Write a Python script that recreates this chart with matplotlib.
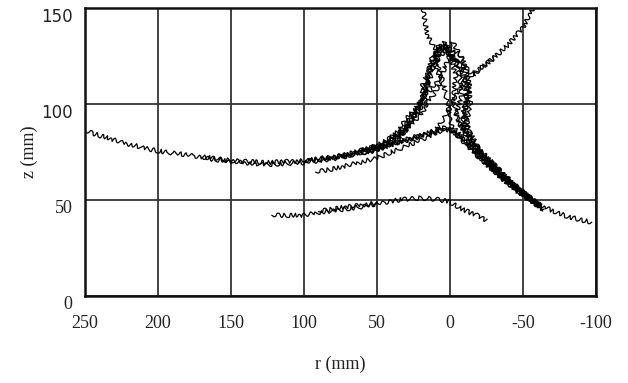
import matplotlib
matplotlib.use("Agg")
import matplotlib.pyplot as plt
import matplotlib.transforms as mtransforms

# ── Trajectories (r, z) in mm ─────────────────────────────────────────────────
traj_a_r = [250, 225, 200, 175, 150, 125, 100, 75, 50, 25, 5, 0, -10, -20, -30, -40, -50, -60, -70, -80, -90, -97]
traj_a_z = [86, 80, 75.5, 73, 70.5, 69.5, 70.5, 73, 76, 83, 86, 87, 81, 72, 65, 58.5, 52.5, 48, 44.5, 41.5, 39.5, 38.5]

traj_b_r = [170, 150, 125, 100, 75, 50, 30, 15, 3, -5, -15, -30, -45, -55, -64]
traj_b_z = [72, 70, 68.5, 69.5, 72, 77, 81, 85, 88, 84, 77, 66, 56, 50, 45]

traj_c_r = [92, 75, 50, 30, 15, 5, -2, -15, -30, -45, -60]
traj_c_z = [64.5, 67, 72, 78, 83, 87, 86, 76, 65, 55, 47]

traj_d_r = [19, 17, 16, 13, 10, 8, 5, 3, 1, 0, -2, -15, -30, -45, -62]
traj_d_z = [150, 143, 137, 132, 128, 120, 112, 105, 97, 92, 88, 77, 66, 56, 46]

traj_e_r = [60, 40, 25, 10, 2, -4, -10, -16, -25, -30, -40, -50, -57]
traj_e_z = [74, 79, 82, 86, 95, 105, 112, 116, 121, 124, 131, 140, 150]

traj_f_r = [60, 40, 30, 25, 18, 15, 12, 8, 2, -5, -10, -12, -8, -14, -30, -60]
traj_f_z = [74, 80, 87, 95, 103, 112, 122, 130, 127, 122, 112, 100, 90, 80, 66, 48]

traj_g_r = [100, 70, 45, 35, 30, 22, 16, 14, 6, -2, -8, -12, -14, -10, -25, -45, -62]
traj_g_z = [70, 73, 80, 86, 93, 98, 108, 120, 131, 128, 125, 115, 100, 86, 71, 57, 47]

traj_h_r = [80, 55, 40, 32, 26, 20, 14, 10, 4, 0, -4, -2, -6, -18, -32, -50, -64]
traj_h_z = [72, 77, 82, 87, 92, 100, 112, 124, 132, 125, 115, 102, 90, 78, 67, 53, 45]

traj_i_r = [65, 45, 36, 30, 25, 18, 10, 4, 0, -6, -12, -16, -20, -30]
traj_i_z = [75, 79, 84, 90, 96, 104, 110, 118, 126, 122, 118, 115, 118, 124]

traj_j_r = [50, 35, 28, 22, 18, 15, 12, 5, -3, -6, -8, -4, -12, -28, -44, -58]
traj_j_z = [77, 82, 90, 96, 106, 116, 126, 130, 126, 116, 105, 94, 82, 70, 58, 49]

traj_m_r = [40, 32, 26, 20, 16, 20, 14, 8, 2, -6, -12, -10, -15, -35, -60]
traj_m_z = [79, 85, 90, 94, 100, 108, 118, 125, 128, 120, 110, 96, 80, 62, 48]

traj_n_r = [45, 38, 30, 25, 20, 12, 6, 10, 4, -2, -8, -14, -8, -20, -40, -62]
traj_n_z = [80, 84, 86, 92, 98, 104, 112, 120, 128, 132, 124, 108, 94, 76, 60, 47]

traj_k_r = [122, 110, 100, 90, 75, 60, 50, 40, 30, 20, 10, 0, -5, -12, -20, -25]
traj_k_z = [42, 42, 42, 43.5, 45, 46.5, 48, 49.5, 50.5, 51, 50.5, 49, 46.5, 44, 41.5, 39.5]

traj_l_r = [90, 75, 60, 50]
traj_l_z = [44, 46, 47.5, 48.5]

trajectories = [
    (traj_a_r, traj_a_z), (traj_b_r, traj_b_z), (traj_c_r, traj_c_z),
    (traj_d_r, traj_d_z), (traj_e_r, traj_e_z), (traj_f_r, traj_f_z),
    (traj_g_r, traj_g_z), (traj_h_r, traj_h_z), (traj_i_r, traj_i_z),
    (traj_j_r, traj_j_z), (traj_m_r, traj_m_z), (traj_n_r, traj_n_z),
    (traj_k_r, traj_k_z), (traj_l_r, traj_l_z),
]

x_ticks = [250, 200, 150, 100, 50, 0, -50, -100]
y_ticks = [0, 50, 100, 150]

# ── Figure ────────────────────────────────────────────────────────────────────
fig = plt.figure(figsize=(6.28, 3.83), dpi=100)
ax = fig.add_axes([0.1354, 0.2272, 0.8137, 0.7519])

for r, z in trajectories:
    line, = ax.plot(r, z, color="black", linewidth=0.9)
    line.set_sketch_params(scale=2.2, length=7, randomness=3)

ax.set_xlim(250, -100)
ax.set_ylim(0, 150)
ax.set_xticks(x_ticks)
ax.set_yticks(y_ticks)
ax.set_xticklabels([str(v) for v in x_ticks], family="Liberation Serif", fontsize=13)
ax.set_yticklabels([str(v) for v in y_ticks], family="Liberation Serif", fontsize=13)
ax.tick_params(length=0, colors="#222222")
ax.tick_params(axis="y", pad=9)
ax.tick_params(axis="x", pad=14)

# upper y labels look sans, and all y labels sit a bit below their grid line
offset = mtransforms.ScaledTranslation(0, -7 / 100, fig.dpi_scale_trans)
for lab, v in zip(ax.get_yticklabels(), y_ticks):
    if v >= 100:
        lab.set_family("DejaVu Sans")
        lab.set_fontsize(12)
    lab.set_transform(lab.get_transform() + offset)

ax.grid(True, color="#333333", linewidth=1.3)
ax.set_axisbelow(True)
for s in ax.spines.values():
    s.set_linewidth(1.8)
    s.set_color("#111111")

ax.set_xlabel("r (mm)", family="Liberation Serif", fontsize=13, labelpad=17, color="#222222")
ax.set_ylabel("z (mm)", family="Liberation Serif", fontsize=13, labelpad=2, color="#222222")

fig.savefig("out.png", dpi=100)
